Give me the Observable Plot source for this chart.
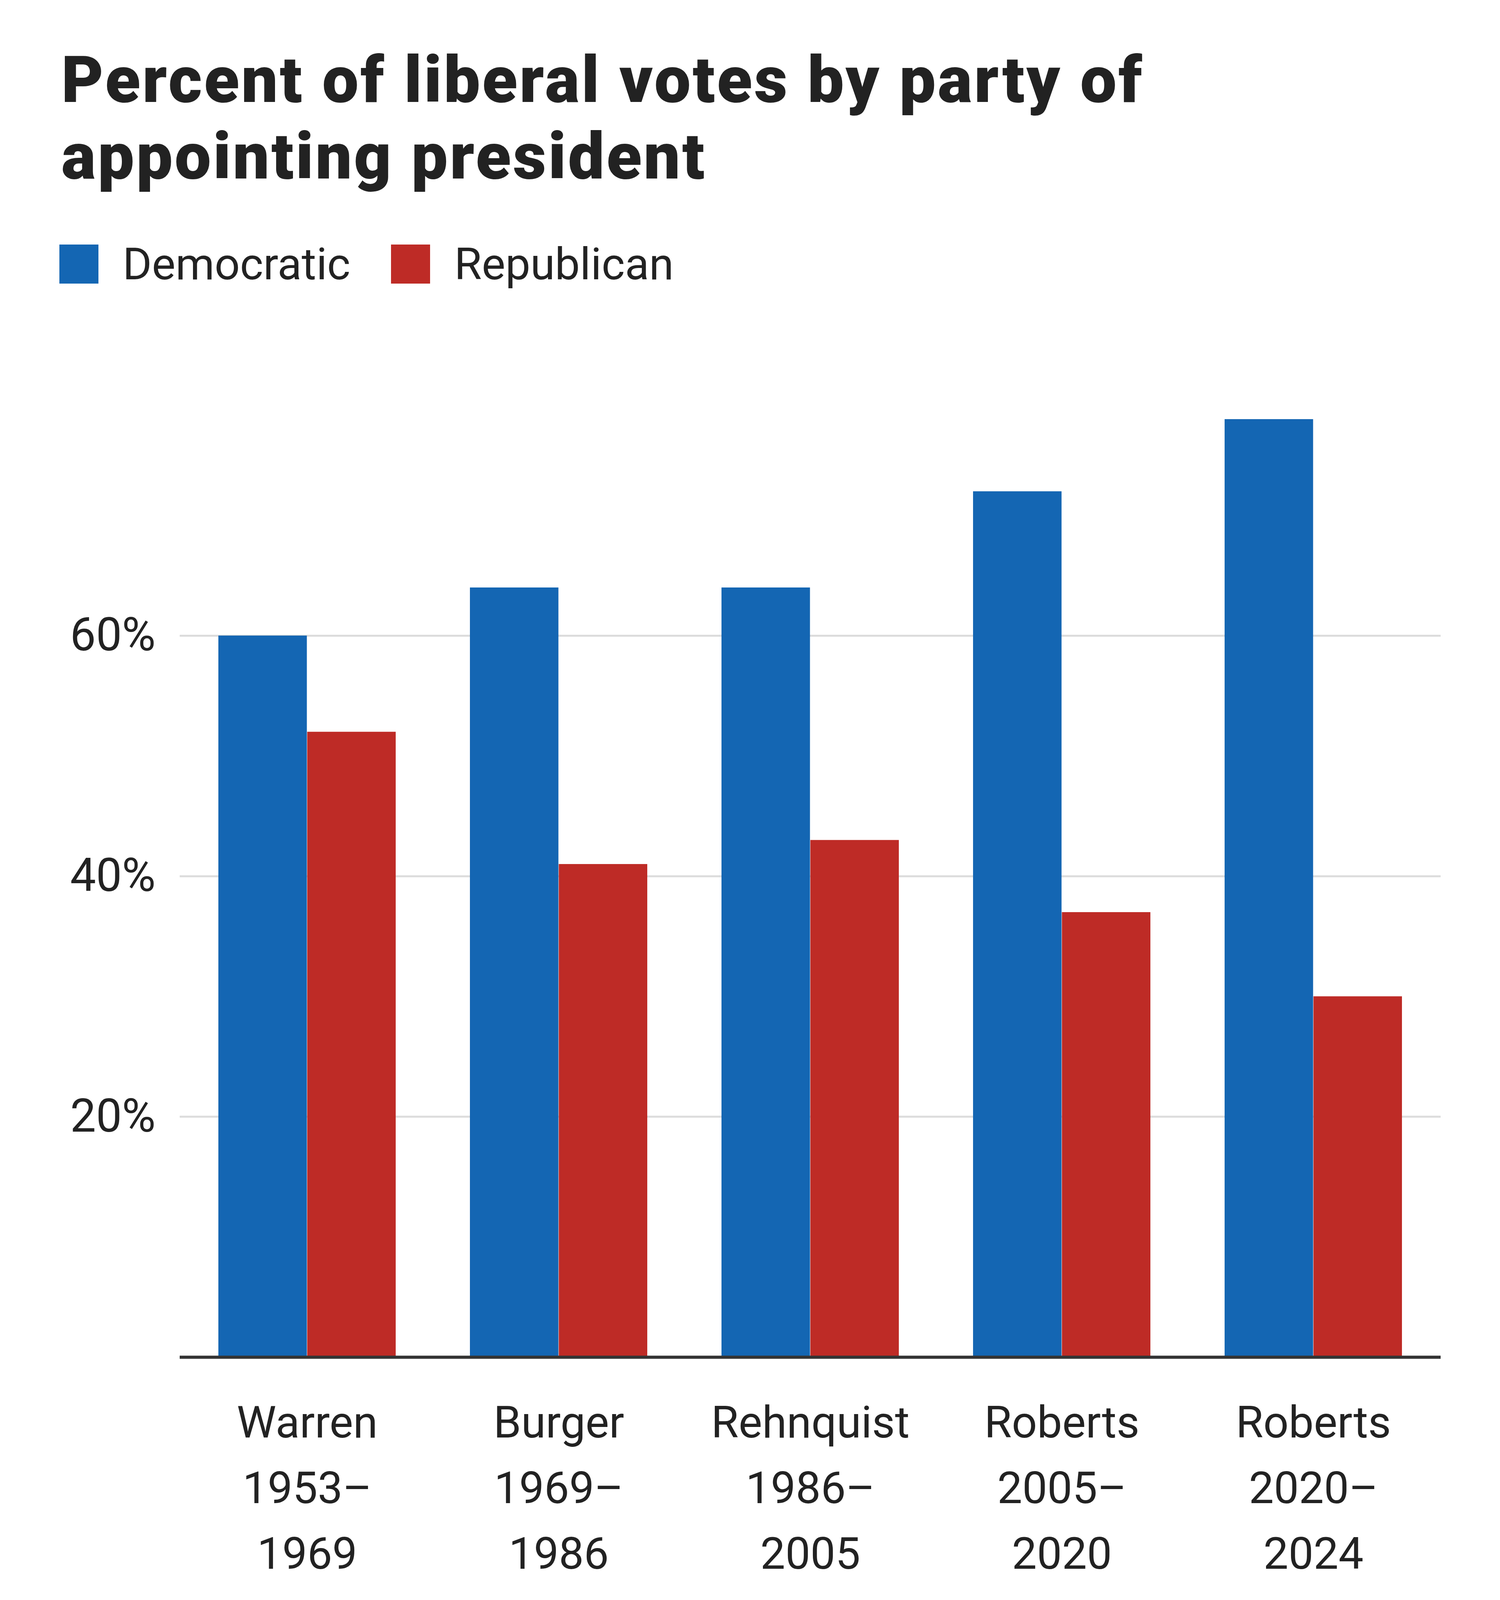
<!DOCTYPE html>
<html>
<head>
<meta charset="utf-8">
<script src="https://cdn.jsdelivr.net/npm/d3@7"></script>
<script src="https://cdn.jsdelivr.net/npm/@observablehq/plot@0.6"></script>
<style>
  html, body { margin: 0; padding: 0; background: #fff; overflow: hidden; }
  body { width: 3840px; font-family: Roboto, "Liberation Sans", sans-serif; color: #222; }
  #head { position: relative; width: 3840px; height: 760px; }
  #title { position: absolute; left: 157px; top: 107px; font-size: 166px; line-height: 196px; font-weight: 900; color: #222; letter-spacing: 5px; white-space: nowrap; }
  .sw { position: absolute; top: 626px; width: 100px; height: 100px; }
  .lt { position: absolute; top: 619px; font-size: 114px; line-height: 114px; color: #222; white-space: nowrap; }
  #chart svg { display: block; }
</style>
</head>
<body>
<div id="head">
  <div id="title">Percent of liberal votes by party of<br>appointing president</div>
  <div class="sw" id="sw0" style="left:152px"></div>
  <div class="lt" id="lt0" style="left:314px"></div>
  <div class="sw" id="sw1" style="left:1001px"></div>
  <div class="lt" id="lt1" style="left:1163px"></div>
</div>
<div id="chart"></div>
<script>
const courts = ["Warren", "Burger", "Rehnquist", "Roberts", "Roberts"];
const startYears = ["1953", "1969", "1986", "2005", "2020"];
const endYears = ["1969", "1986", "2005", "2020", "2024"];
const democratic = [60, 64, 64, 72, 78];
const republican = [52, 41, 43, 37, 30];
const parties = ["Democratic", "Republican"];
const partyColors = ["#1466b3", "#be2b26"];
const yTicks = [20, 40, 60];

const labels = courts.map((c, i) => `${c}\n${startYears[i]}–\n${endYears[i]}`);
const data = [];
labels.forEach((l, i) => {
  data.push({label: l, party: parties[0], value: democratic[i]});
  data.push({label: l, party: parties[1], value: republican[i]});
});

parties.forEach((p, i) => {
  document.getElementById("sw" + i).style.background = partyColors[i];
  document.getElementById("lt" + i).textContent = p;
});

const width = 3840, height = 3336;
const marginLeft = 460, marginRight = 152, marginTop = 313, marginBottom = 622;
const paddingInner = 0.2946, paddingOuter = 0.15;
const step = (width - marginLeft - marginRight) / (labels.length - paddingInner + 2 * paddingOuter);
const bw = step * (1 - paddingInner);

const chart = Plot.plot({
  width, height, marginLeft, marginRight, marginTop, marginBottom,
  style: {fontFamily: "Roboto, 'Liberation Sans', sans-serif", color: "#222", background: "#fff"},
  x: {domain: labels, paddingInner, paddingOuter, label: null},
  y: {domain: [0, 78], label: null},
  color: {domain: parties, range: partyColors},
  marks: [
    Plot.gridY(yTicks, {stroke: "#dcdcdc", strokeOpacity: 1, strokeWidth: 5}),
    Plot.barY(data.filter(d => d.party === parties[0]), {x: "label", y: "value", fill: "party", insetRight: bw / 2}),
    Plot.barY(data.filter(d => d.party === parties[1]), {x: "label", y: "value", fill: "party", insetLeft: bw / 2}),
    Plot.ruleY([0], {stroke: "#333", strokeWidth: 8}),
    Plot.axisY(yTicks, {tickFormat: d => d + "%", tickSize: 0, tickPadding: 62, fontSize: 118, label: null, fill: "#222"}),
    Plot.axisX({tickFormat: d => d, tickSize: 0, tickPadding: 86, fontSize: 114, lineHeight: 1.474, label: null, fill: "#222"})
  ]
});
document.getElementById("chart").appendChild(chart);
</script>
</body>
</html>
